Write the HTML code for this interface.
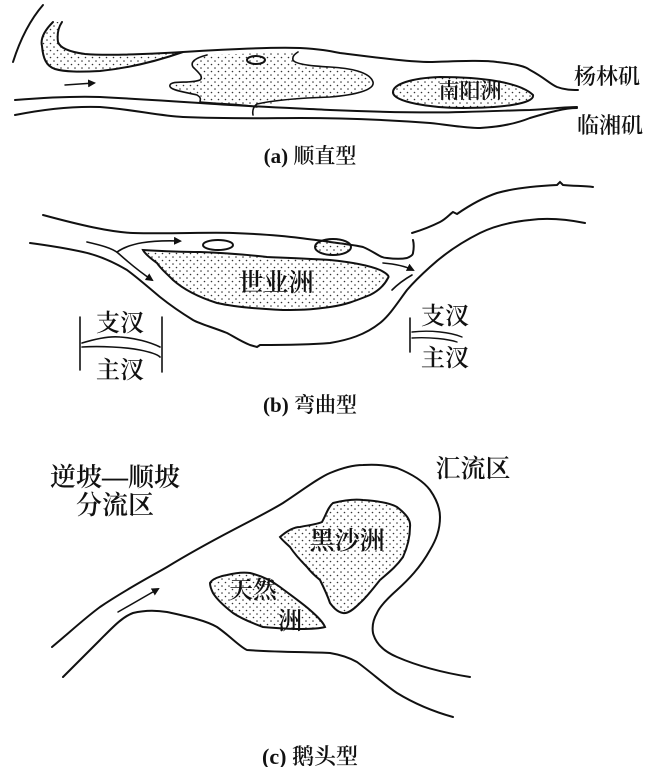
<!DOCTYPE html>
<html><head><meta charset="utf-8"><style>
html,body{margin:0;padding:0;background:#fff;}
svg{display:block;}
text{font-family:"Liberation Serif","Noto Serif CJK SC","Noto Sans CJK SC",serif;fill:#111;font-weight:600;}
</style></head><body>
<svg width="660" height="767" viewBox="0 0 660 767" xmlns="http://www.w3.org/2000/svg">
<defs>
<pattern id="dots" width="7" height="7" patternUnits="userSpaceOnUse">
<circle cx="1.5" cy="1.5" r="0.8" fill="#333"/><circle cx="5" cy="5" r="0.8" fill="#333"/>
</pattern>
<marker id="ah" markerWidth="8" markerHeight="8" refX="6" refY="4" orient="auto" markerUnits="userSpaceOnUse">
<path d="M0,0 L8,4 L0,8 z" fill="#111"/></marker>
</defs>
<g fill="none" stroke="#111" stroke-width="2" stroke-linecap="round">
<!-- panel a -->
<path d="M43,5 C30,20 20,40 13,62"/>
<path d="M53,22 C45,30 40,38 42,46 C43,58 46,66 55,69 C65,72 80,72 100,71 C130,68 160,60 183,52 C150,54 110,56 85,54 C70,52 60,48 58,42 C57,35 58,28 62,22" fill="url(#dots)"/>
<path d="M183,52 C230,49 270,47 300,48 C320,49 330,51 340,53 C380,58 410,62 430,62 C460,61 485,60 497,62 C515,64 525,66 530,70 C545,78 550,84 557,87 C565,90 572,90 578,90"/>
<path d="M207,55 C195,58 190,62 193,67 C198,72 204,77 200,80 C190,84 172,80 170,85 C168,90 185,92 197,95 C202,98 200,100 200,102 L257,107 C275,102 300,98 330,97 C355,95 375,90 373,82 C370,72 350,68 330,67 C310,66 295,64 293,60 C292,56 295,54 298,52 L207,55z" fill="url(#dots)" stroke="none"/>
<path d="M207,55 C195,58 190,62 193,67 C198,72 204,77 200,80 C190,84 172,80 170,85 C168,90 185,92 197,95 C202,98 200,100 200,102 C220,104 240,104 257,107 M253,115 C252,110 254,106 257,104 C275,100 300,98 330,97 C355,95 375,90 373,82 C370,72 350,68 330,67 C310,66 295,64 293,60 C292,56 295,54 298,52" stroke-width="1.6"/>
<ellipse cx="256" cy="60" rx="9" ry="4"/>
<path d="M393,93 C392,84 412,78 440,77 C480,77 520,82 533,95 C535,104 500,108 463,108 C430,108 395,102 393,93z" fill="url(#dots)"/>
<path d="M15,100 C40,98 70,96 100,97 C140,99 170,101 200,103 C240,106 290,108 330,110 C380,112 430,113 463,112 C500,111 520,110 530,110 C550,109 565,107 577,107"/>
<path d="M15,115 C40,110 70,106 100,107 C130,109 160,116 183,117 C230,119 270,118 300,118 C340,118 390,120 430,123 C450,125 465,128 480,128 C500,127 515,124 530,118 C550,112 565,108 577,108"/>
<path d="M65,85 L94,83" stroke-width="1.5" marker-end="url(#ah)"/>
<!-- panel b -->
<path d="M43,215 C80,225 110,232 133,233 C170,234 210,232 233,233 C260,234 285,236 300,238 C315,240 325,241 330,242 C345,244 355,245 363,247 C375,252 380,258 387,258 C395,259 402,259 407,258 C412,256 413,254 413,253 C414,248 414,244 413,240"/>
<path d="M412,233 C422,230 432,226 440,222 C446,219 450,214 453,212 L457,214 C470,205 485,197 497,193 C515,188 535,186 557,185 L560,182 L563,185 C575,186 585,186 593,187"/>
<path d="M585,223 C565,219 545,218 530,220 C510,222 492,227 480,233 C460,243 442,256 430,267 C420,276 413,283 407,290 C398,302 390,315 380,323 C365,335 348,340 330,343 C305,345 280,345 260,345 L257,347 L250,345 C240,341 233,336 227,333 C212,327 200,324 193,320 C180,312 170,305 160,297 C148,287 138,278 127,270 C110,260 97,255 83,252 C65,248 45,245 30,243"/>
<path d="M143,250 C160,251 180,252 200,252 C225,253 250,255 267,257 C290,258 315,259 330,260 C350,262 368,265 380,270 C386,273 390,276 388,278 C384,286 378,291 370,295 C355,301 345,305 330,307 C310,310 298,310 283,310 C260,309 235,307 217,303 C195,296 182,288 173,280 C165,272 160,268 157,263 C150,258 145,254 143,250z" fill="url(#dots)"/>
<ellipse cx="218" cy="245" rx="15" ry="5"/>
<ellipse cx="333" cy="247" rx="18" ry="8" fill="url(#dots)"/>
<path d="M117,252 C130,243 150,240 180,241" stroke-width="1.6" marker-end="url(#ah)"/>
<path d="M87,242 C100,245 112,248 118,253 C128,262 140,272 152,280" stroke-width="1.6" marker-end="url(#ah)"/>
<path d="M383,263 C395,264 405,266 413,270" stroke-width="1.6" marker-end="url(#ah)"/>
<path d="M392,290 C398,284 405,279 412,275" stroke-width="1.6"/>
<path d="M80,317 L80,370 M162,317 L162,372" stroke-width="1.6"/>
<path d="M82,343 C95,339 110,336 120,337 C135,338 150,342 160,347" stroke-width="1.6"/>
<path d="M82,347 C100,346 125,347 140,350 C150,352 157,354 160,357" stroke-width="1.6"/>
<path d="M410,318 L410,352" stroke-width="1.6"/>
<path d="M412,332 C430,330 450,332 462,337 M412,338 C430,337 448,339 457,342" stroke-width="1.4"/>
<!-- panel c -->
<path d="M52,647 C70,632 85,618 100,607 C125,590 148,578 167,567 C190,553 212,541 233,530 C252,520 270,511 283,503 C300,492 318,478 330,473 C342,468 352,465 363,465 C378,464 390,466 397,468 C412,474 424,482 430,490 C437,500 440,508 440,517 C440,530 436,540 430,550 C420,568 408,580 397,590 C388,598 380,606 377,613 C373,620 372,627 373,633 C376,645 385,652 397,657 C420,667 445,673 470,677"/>
<path d="M63,677 C75,665 88,652 100,640 C112,628 122,617 133,613 C145,610 155,610 167,612 C185,616 205,620 217,627 C230,636 240,647 247,650 C275,652 305,652 330,653 C342,655 350,658 357,662 C372,673 385,685 397,693 C415,704 435,712 453,717"/>
<path d="M280,537 C288,530 295,527 300,527 C310,525 318,524 322,522 C326,515 328,507 333,503 C345,500 355,499 363,500 C378,501 390,503 397,507 C406,514 411,520 410,527 C410,538 407,548 403,557 C396,567 388,573 380,580 C372,590 366,598 360,603 C354,609 348,614 343,613 C337,612 333,607 330,603 C327,594 324,588 320,580 C314,575 310,571 307,567 C300,560 294,553 290,547 C286,543 282,540 280,537z" fill="url(#dots)"/>
<path d="M210,583 C212,579 220,576 227,575 C235,573 243,572 250,573 C262,576 272,581 280,587 C292,596 302,603 310,610 C318,617 323,622 325,627 C318,629 308,629 300,629 C288,629 275,628 263,627 C252,623 242,619 233,613 C224,606 216,598 213,593 C211,589 210,586 210,583z" fill="url(#dots)"/>
<path d="M118,612 L158,589" stroke-width="1.5" marker-end="url(#ah)"/>
</g>
<g font-size="22" text-anchor="middle">
<text x="607" y="84">杨林矶</text>
<text x="610" y="133">临湘矶</text>
<text x="470" y="98" font-size="21">南阳洲</text>
<text x="310" y="163" font-size="21">(a) 顺直型</text>
<text x="276" y="291" font-size="25">世业洲</text>
<text x="120" y="331" font-size="24">支汊</text>
<text x="120" y="378" font-size="24">主汊</text>
<text x="445" y="324" font-size="24">支汊</text>
<text x="445" y="366" font-size="24">主汊</text>
<text x="310" y="412" font-size="21">(b) 弯曲型</text>
<text x="115" y="486" font-size="26">逆坡—顺坡</text>
<text x="115" y="514" font-size="26">分流区</text>
<text x="473" y="477" font-size="25">汇流区</text>
<text x="347" y="549" font-size="25">黑沙洲</text>
<text x="253" y="598" font-size="24">天然</text>
<text x="290" y="629" font-size="24">洲</text>
<text x="310" y="764" font-size="22">(c) 鹅头型</text>
</g>
</svg>
</body></html>
